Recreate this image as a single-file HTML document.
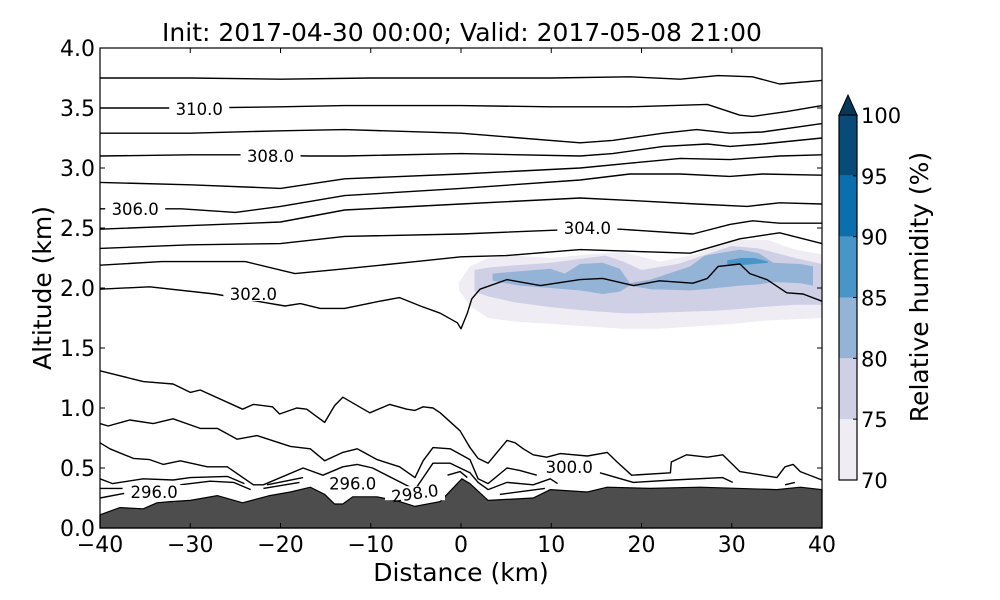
<!DOCTYPE html>
<html><head><meta charset="utf-8"><style>
html,body{margin:0;padding:0;background:#fff;}
svg{display:block;font-family:"DejaVu Sans","Liberation Sans",sans-serif;}
</style></head><body>
<svg id="chart" width="1000" height="600" viewBox="0 0 1000 600">
<g id="fills"></g>
<g id="terrain"></g>
<g id="contours"></g>
<g id="clabels"></g>
<g id="axes"></g>
<g id="cbar"></g>
<text x="462" y="41" text-anchor="middle" font-size="25">Init: 2017-04-30 00:00; Valid: 2017-05-08 21:00</text>
<text x="461" y="581" text-anchor="middle" font-size="25">Distance (km)</text>
<text transform="translate(51,288) rotate(-90)" text-anchor="middle" font-size="25">Altitude (km)</text>
<text transform="translate(928,287) rotate(-90)" text-anchor="middle" font-size="25">Relative humidity (%)</text>
</svg>
<script>
const xTicks=[-40,-30,-20,-10,0,10,20,30,40];
const yTicks=[0.0,0.5,1.0,1.5,2.0,2.5,3.0,3.5,4.0];
const cbLevels=[70,75,80,85,90,95,100];
const cbColors=['#efecf3','#cfd0e5','#93b4d6','#4896c8','#0b6fae','#084a78'];

const rh70D=[-0.2,1,3,6,10,14,18,22,26,30,34,37,40];
const rh70Top=[2.05,2.18,2.25,2.27,2.25,2.28,2.3,2.22,2.28,2.4,2.4,2.32,2.28];
const rh70Bot=[1.98,1.85,1.75,1.72,1.70,1.68,1.66,1.66,1.68,1.70,1.73,1.74,1.75];
const rh75D=[1.5,3,6,10,14,16,18,20,24,28,30,33,37,40];
const rh75Top=[2.15,2.17,2.19,2.21,2.25,2.27,2.22,2.15,2.2,2.3,2.35,2.33,2.25,2.2];
const rh75Bot=[1.97,1.93,1.88,1.84,1.81,1.80,1.79,1.79,1.80,1.81,1.82,1.84,1.86,1.86];
const rh80D=[3.5,6.5,9.9,11.5,13.2,15.7,17.6,18.7,21,25.4,27,30.9,33,34.6,37.6,39];
const rh80Top=[2.12,2.14,2.16,2.12,2.2,2.21,2.16,2.04,2.07,2.18,2.27,2.32,2.29,2.21,2.2,2.18];
const rh80Bot=[2.06,2.02,2.0,1.99,1.98,1.95,1.97,2.02,1.99,1.98,1.99,2.02,2.03,2.05,2.04,2.02];
const rh85D=[29.5,31,32.5,34];
const rh85Top=[2.23,2.25,2.25,2.22];
const rh85Bot=[2.2,2.19,2.2,2.21];

const terrD=[-40,-37.8,-35.2,-33.7,-32.2,-30,-27,-24.2,-21.2,-18.9,-16.7,-15.1,-14,-13.1,-12,-9.3,-6.8,-5.1,-2.3,0.1,1,3,8,9.9,14,16.2,21,26.5,35,37.6,40];
const terrA=[0.11,0.17,0.16,0.21,0.22,0.23,0.27,0.21,0.27,0.30,0.34,0.28,0.20,0.20,0.26,0.26,0.22,0.18,0.22,0.41,0.37,0.23,0.25,0.32,0.30,0.34,0.33,0.34,0.32,0.34,0.32];

const c1D=[-40,-30,-20,-10,0,10,18.7,24.3,28.5,32.3,35.3,40];
const c1A=[3.75,3.75,3.74,3.75,3.75,3.75,3.76,3.74,3.77,3.76,3.70,3.73];
const c2D=[-40,-30,-20,-13,0,10,18.7,27.3,30.9,32.3,36.1,40];
const c2A=[3.50,3.50,3.51,3.52,3.52,3.51,3.51,3.53,3.44,3.43,3.47,3.52];
const c3D=[-40,-30,-20,-12.9,0,13.2,16.8,22.4,26.1,29.8,33.4,40];
const c3A=[3.29,3.29,3.31,3.32,3.29,3.21,3.23,3.29,3.32,3.29,3.30,3.37];
const c4D=[-40,-30,-23,-17,-12.9,0,13.2,16.8,22.4,27.3,29.8,33.4,40];
const c4A=[3.10,3.11,3.11,3.10,3.10,3.12,3.10,3.12,3.18,3.20,3.18,3.20,3.25];
const c5D=[-40,-30,-20,-12.9,0,13.2,18.7,24.3,29.8,35.3,40];
const c5A=[2.88,2.86,2.83,2.91,2.95,3.00,3.04,3.08,3.07,3.10,3.11];
const c6D=[-40,-31,-25,-20,-12.9,0,13.2,18.7,24.3,29.8,33.4,40];
const c6A=[2.66,2.66,2.63,2.68,2.77,2.83,2.90,2.95,2.95,2.93,2.95,2.94];
const c7D=[-40,-30,-20,-12.9,0,13.2,18.7,26.1,31.7,35.3,40];
const c7A=[2.49,2.52,2.55,2.65,2.70,2.75,2.73,2.70,2.68,2.71,2.70];
const c8D=[-40,-30,-20,-12.9,0,13.2,17.6,25.7,29.8,32.3,35.3,40];
const c8A=[2.33,2.36,2.37,2.43,2.45,2.49,2.49,2.45,2.53,2.56,2.54,2.54];
const c9D=[-40,-33.2,-23.9,-18.4,-12.9,-5,0,5,13.2,25.4,30.9,35.3,40];
const c9A=[2.19,2.22,2.22,2.12,2.16,2.22,2.26,2.27,2.32,2.29,2.41,2.46,2.37];
const c10D=[-40,-34.5,-27.3,-19.5,-17.8,-15.6,-12.9,-9,-6.8,-4.5,-2.3,-0.4,0,0.7,1.2,2.1,5.1,8.8,13.2,15.7,19.1,22,25.7,27.3,28.5,30.9,32,33.9,36.1,37.9,40];
const c10A=[1.99,2.01,1.95,1.85,1.87,1.83,1.83,1.89,1.92,1.85,1.79,1.71,1.66,1.79,1.91,1.99,2.07,2.02,2.07,2.08,2.02,2.06,2.04,2.08,2.18,2.20,2.12,2.07,1.96,1.95,1.89];
const cAD=[-40,-35.2,-31.9,-30,-28.9,-24.2,-23,-20.9,-20.1,-18.2,-17.1,-15.1,-14,-13.1,-10.1,-7.9,-6,-5.1,-4.2,-3.1,-2.3,-0.1,1,1.9,3,5.1,6,6.9,8,9.5,11,14,16.2,17.3,18.9,23.2,23.3,25,27.3,29,30.9,35,35.9,36.8,37.6,40];
const cAA=[1.31,1.22,1.20,1.13,1.15,0.99,1.03,1.01,0.95,1.00,0.99,0.88,1.02,1.09,0.96,1.03,0.99,0.98,1.01,1.00,0.96,0.81,0.67,0.58,0.54,0.73,0.71,0.66,0.61,0.59,0.62,0.60,0.63,0.55,0.44,0.46,0.55,0.61,0.59,0.61,0.47,0.42,0.51,0.53,0.47,0.40];
const cBD=[-40,-39.1,-36.7,-34.1,-31.9,-28.9,-27,-24.8,-22.6,-18.9,-16.7,-15.1,-13.1,-11.5,-9.3,-6.8,-5.1,-4.2,-3.1,-1.2,1,1.9,3,5.1,6.5,8.4];
const cBA=[0.87,0.85,0.90,0.87,0.91,0.83,0.83,0.74,0.77,0.68,0.66,0.56,0.63,0.66,0.57,0.51,0.42,0.56,0.67,0.66,0.57,0.41,0.37,0.50,0.48,0.44];
const cB2D=[15.4,19.1,23.5,29,30.1];
const cB2A=[0.46,0.38,0.40,0.42,0.38];
const cCD=[-40,-38.9,-36.3,-34.5,-33,-31.1,-28.1,-25.9,-23,-21.9,-17.5,-15.3,-13.1,-11.5,-9.8,-5.1,-3.1,-1.2,1,1.9,3,5.1,8,9.9,10.7];
const cCA=[0.71,0.66,0.58,0.57,0.53,0.56,0.51,0.51,0.36,0.36,0.50,0.44,0.51,0.53,0.50,0.32,0.54,0.54,0.46,0.38,0.32,0.38,0.36,0.41,0.37];
const cDD=[-40,-38.6,-35.2,-31.9,-30,-25.9,-24];
const cDA=[0.41,0.37,0.41,0.40,0.42,0.43,0.37];
const cED=[-40,-37.5];
const cEA=[0.33,0.33];
const cE2D=[-31.1,-27.8,-25.2,-23.3];
const cE2A=[0.36,0.39,0.38,0.32];
const cGD=[-40,-37.2];
const cGA=[0.25,0.29];
const cFD=[-21.5,-17.5];
const cFA=[0.36,0.42];
const cF2D=[-21.9,-17.9];
const cF2A=[0.33,0.38];
const cHD=[-1.5,-0.1,0.7];
const cHA=[0.44,0.47,0.42];
const cID=[4.3,9.3];
const cIA=[0.28,0.33];
const cJD=[35.9,37.0];
const cJA=[0.36,0.38];

const labelTexts=['310.0','308.0','306.0','304.0','302.0','300.0','296.0','296.0','298.0'];
const labelD=[-29,-21.1,-36.1,14,-23,12,-34,-12,-5.1];
const labelA=[3.49,3.10,2.66,2.50,1.95,0.51,0.30,0.37,0.29];

const X0=100,X1=822,Y0=528,Y1=48;
const xs=d=>X0+(d+40)/80*(X1-X0);
const ys=a=>Y0-a/4*(Y0-Y1);
const NS='http://www.w3.org/2000/svg';
function mk(tag,parent){const e=document.createElementNS(NS,tag);parent.appendChild(e);return e;}
function ptsLine(D,A){return D.map((d,i)=>xs(d).toFixed(1)+','+ys(A[i]).toFixed(1)).join(' ');}
function band(D,T,B){const top=D.map((d,i)=>xs(d).toFixed(1)+','+ys(T[i]).toFixed(1));const bot=D.map((d,i)=>xs(d).toFixed(1)+','+ys(B[i]).toFixed(1)).reverse();return top.concat(bot).join(' ');}

const fills=document.getElementById('fills');
[[rh70D,rh70Top,rh70Bot,0],[rh75D,rh75Top,rh75Bot,1],[rh80D,rh80Top,rh80Bot,2],[rh85D,rh85Top,rh85Bot,3]].forEach((b,i)=>{
 const p=mk('polygon',fills);
 p.setAttribute('points',band(b[0],b[1],b[2]));
 p.setAttribute('fill',cbColors[b[3]]);
 
 
});

const tg=document.getElementById('terrain');
const tp=mk('polygon',tg);
tp.setAttribute('points',ptsLine(terrD,terrA)+' '+xs(40)+','+Y0+' '+xs(-40)+','+Y0);
tp.setAttribute('fill','#4d4d4d');tp.setAttribute('stroke','#000');tp.setAttribute('stroke-width','1.2');



const cg=document.getElementById('contours');
const lines=[[c1D,c1A],[c2D,c2A],[c3D,c3A],[c4D,c4A],[c5D,c5A],[c6D,c6A],[c7D,c7A],[c8D,c8A],[c9D,c9A],[c10D,c10A],[cAD,cAA],[cBD,cBA],[cB2D,cB2A],[cCD,cCA],[cDD,cDA],[cED,cEA],[cE2D,cE2A],[cGD,cGA],[cFD,cFA],[cF2D,cF2A],[cHD,cHA],[cID,cIA],[cJD,cJA]];
lines.forEach((l,i)=>{
 const p=mk('polyline',cg);
 p.setAttribute('points',ptsLine(l[0],l[1]));
 p.setAttribute('fill','none');p.setAttribute('stroke','#000');p.setAttribute('stroke-width','1.4');
 p.setAttribute('stroke-linejoin','round');
 
 
});

const lg=document.getElementById('clabels');
labelTexts.forEach((t,i)=>{
 const cx=xs(labelD[i]),cy=ys(labelA[i]);
 const r=mk('rect',lg);
 r.setAttribute('x',cx-30);r.setAttribute('y',cy-7);r.setAttribute('width',60);r.setAttribute('height',14);r.setAttribute('fill','#fff');
 
 
 const tx=mk('text',lg);
 tx.setAttribute('x',cx);tx.setAttribute('y',cy+6);tx.setAttribute('text-anchor','middle');tx.setAttribute('font-size','16.5');
 if(i===8)tx.setAttribute('transform','rotate(-8 '+cx+' '+cy+')');
 tx.textContent=t;
 
 
});

const ag=document.getElementById('axes');
const fr=mk('rect',ag);
fr.setAttribute('x',X0);fr.setAttribute('y',Y1);fr.setAttribute('width',X1-X0);fr.setAttribute('height',Y0-Y1);
fr.setAttribute('fill','none');fr.setAttribute('stroke','#000');fr.setAttribute('stroke-width','1.2');


xTicks.forEach(v=>{
 const x=xs(v);
 [[Y0,Y0-5],[Y1,Y1+5]].forEach(s=>{const l=mk('line',ag);l.setAttribute('x1',x);l.setAttribute('x2',x);l.setAttribute('y1',s[0]);l.setAttribute('y2',s[1]);l.setAttribute('stroke','#000');
 
 });
 const t=mk('text',ag);t.setAttribute('x',x);t.setAttribute('y',Y0+24);t.setAttribute('text-anchor','middle');t.setAttribute('font-size','22');
 t.textContent=(v<0?'\u2212':'')+Math.abs(v);
 
 
});
yTicks.forEach(v=>{
 const y=ys(v);
 [[X0,X0+5],[X1,X1-5]].forEach(s=>{const l=mk('line',ag);l.setAttribute('y1',y);l.setAttribute('y2',y);l.setAttribute('x1',s[0]);l.setAttribute('x2',s[1]);l.setAttribute('stroke','#000');
 
 });
 const t=mk('text',ag);t.setAttribute('x',X0-5);t.setAttribute('y',y+8);t.setAttribute('text-anchor','end');t.setAttribute('font-size','22');
 t.textContent=v.toFixed(1);
 
 
});

const cb=document.getElementById('cbar');
const CBX=839,CBW=18,CBT=115,CBB=480;
const cys=v=>CBB-(v-70)/30*(CBB-CBT);
cbColors.forEach((c,i)=>{
 const r=mk('rect',cb);
 r.setAttribute('x',CBX);r.setAttribute('y',cys(cbLevels[i+1]));r.setAttribute('width',CBW);r.setAttribute('height',cys(cbLevels[i])-cys(cbLevels[i+1]));r.setAttribute('fill',c);
 
 
});
const tri=mk('polygon',cb);
tri.setAttribute('points',CBX+','+CBT+' '+(CBX+CBW)+','+CBT+' '+(CBX+CBW/2)+',95');
tri.setAttribute('fill','#05375a');tri.setAttribute('stroke','#000');


const cbo=mk('rect',cb);
cbo.setAttribute('x',CBX);cbo.setAttribute('y',CBT);cbo.setAttribute('width',CBW);cbo.setAttribute('height',CBB-CBT);cbo.setAttribute('fill','none');cbo.setAttribute('stroke','#000');cbo.setAttribute('stroke-width','1.2');


cbLevels.forEach(v=>{
 const y=cys(v);
 const l=mk('line',cb);l.setAttribute('x1',CBX+CBW);l.setAttribute('x2',CBX+CBW-4);l.setAttribute('y1',y);l.setAttribute('y2',y);l.setAttribute('stroke','#000');
 
 
 const t=mk('text',cb);t.setAttribute('x',CBX+CBW+4);t.setAttribute('y',y+8);t.setAttribute('font-size','21');
 t.textContent=v;
 
 
});
</script>
</body></html>
